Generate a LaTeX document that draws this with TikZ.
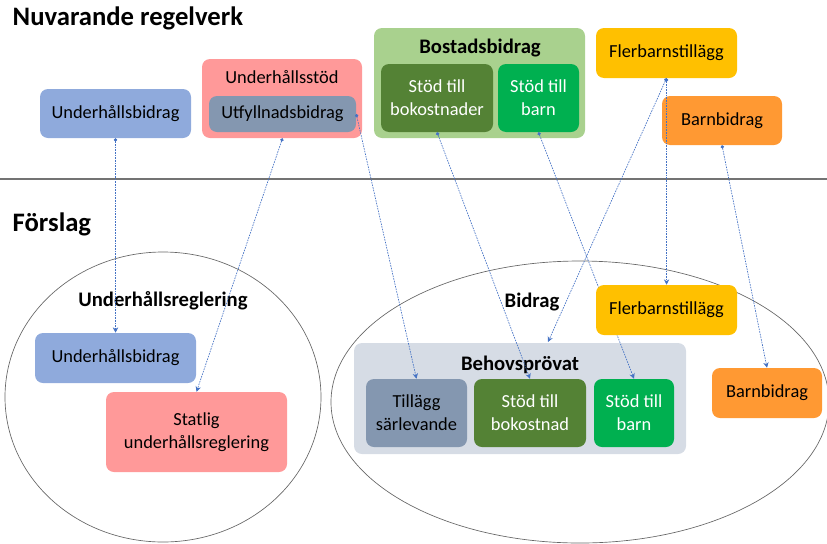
\documentclass[tikz,border=0pt]{standalone}
\usepackage{fontspec}
\setmainfont{Carlito}
\usetikzlibrary{arrows.meta,positioning}

\definecolor{bidragblue}{HTML}{8FAADC}
\definecolor{stodpink}{HTML}{FF9999}
\definecolor{slate}{HTML}{8497B0}
\definecolor{lightgreen}{HTML}{A9D18E}
\definecolor{darkgreen}{HTML}{548235}
\definecolor{brightgreen}{HTML}{00B050}
\definecolor{gold}{HTML}{FFC000}
\definecolor{barnorange}{HTML}{FF9933}
\definecolor{behovgray}{HTML}{D6DCE5}
\definecolor{linkblue}{HTML}{4472C4}

\begin{document}
\begin{tikzpicture}
			[x=0.75pt, y=-0.75pt, align=center, font=\fontsize{13.8}{17}\selectfont,
			box/.style={rounded corners=6pt, inner sep=2pt},
			head/.style={font=\bfseries\fontsize{20}{22}\selectfont, anchor=west},
			grouplabel/.style={font=\bfseries\fontsize{15.5}{17}\selectfont},
			link/.style={linkblue, line width=0.5pt, dash pattern=on 1.2pt off 0.8pt,
				{Circle[length=2.5pt]}-{Stealth[length=4pt, width=4pt]}}]
			\useasboundingbox (0,0) rectangle (827,543);
			% headings
			\node[head] (nuv) at (8,18) {Nuvarande regelverk};
			\node[head] (fors) at (8,224) {Förslag};
			\draw[gray!90!black, line width=1.2pt] (0,179) -- (827,179);
			% current rules
			\node[box, fill=bidragblue, minimum width=113.25pt, minimum height=36.75pt] (ubA) at (115.5,113.5) {Underhållsbidrag};
			\node[box, fill=stodpink, minimum width=120pt, minimum height=59.25pt] (ust) at (282,98.5) {};
			\node (ustL) at (282,77) {Underhållsstöd};
			\node[box, fill=slate, minimum width=110.25pt, minimum height=27pt] (utf) at (282.5,114) {Utfyllnadsbidrag};
			\node[box, fill=lightgreen, minimum width=158.25pt, minimum height=82.5pt] (bost) at (479.5,83) {};
			\node[grouplabel] (bostL) at (480,48) {Bostadsbidrag};
			\node[box, fill=darkgreen, text=white, minimum width=84pt, minimum height=51pt] (bok) at (437,98) {Stöd till\\bokostnader};
			\node[box, fill=brightgreen, text=white, minimum width=60.75pt, minimum height=51pt] (sbarn) at (538.5,98) {Stöd till\\barn};
			\node[box, fill=gold, minimum width=105.75pt, minimum height=37.5pt] (flerA) at (666.5,53) {Flerbarnstillägg};
			\node[box, fill=barnorange, minimum width=90pt, minimum height=36.75pt] (barnA) at (722,120.5) {Barnbidrag};
			% proposal
			\draw[gray!80!black, line width=0.5pt] (163,397) ellipse [x radius=158, y radius=145];
			\draw[gray!80!black, line width=0.5pt] (580,402) ellipse [x radius=249, y radius=141];
			\node[grouplabel] (urL) at (163,301) {Underhållsreglering};
			\node[box, fill=bidragblue, minimum width=120.75pt, minimum height=37.5pt] (ubB) at (115.5,358) {Underhållsbidrag};
			\node[box, fill=stodpink, minimum width=135.75pt, minimum height=60pt] (stat) at (196.5,432) {Statlig\\underhållsreglering};
			\node[grouplabel] (bidL) at (532,302) {Bidrag};
			\node[box, fill=behovgray, minimum width=249pt, minimum height=83.25pt] (behov) at (520,398.5) {};
			\node[grouplabel] (behovL) at (520,365) {Behovsprövat};
			\node[box, fill=slate, minimum width=75.75pt, minimum height=51pt] (till) at (416.5,413) {Tillägg\\särlevande};
			\node[box, fill=darkgreen, text=white, minimum width=84pt, minimum height=51pt] (bokB) at (530,413) {Stöd till\\bokostnad};
			\node[box, fill=brightgreen, text=white, minimum width=60pt, minimum height=51pt] (barnB) at (634,413) {Stöd till\\barn};
			\node[box, fill=barnorange, minimum width=82.5pt, minimum height=37.5pt] (barnC) at (767,393) {Barnbidrag};
			\coordinate (behovIn) at (548,342);
			% links
			\draw[link] (ubA.south) -- (ubB.north);
			\draw[link] (utf.south |- ust.south) -- (stat.north);
			\draw[link] (utf.east) -- (till.north);
			\draw[link] (bok.south) -- (bokB.north);
			\draw[link] (sbarn.south) -- (barnB.north);
			\draw[link] (barnA.south) -- (barnC.north);
			\node[box, fill=gold, minimum width=105.75pt, minimum height=37.5pt] (flerB) at (666.5,310) {Flerbarnstillägg};
			\draw[link] (flerA.south) -- (behovIn);
			\draw[link] (flerA.south) -- (flerB.north);
		\end{tikzpicture}
\end{document}
